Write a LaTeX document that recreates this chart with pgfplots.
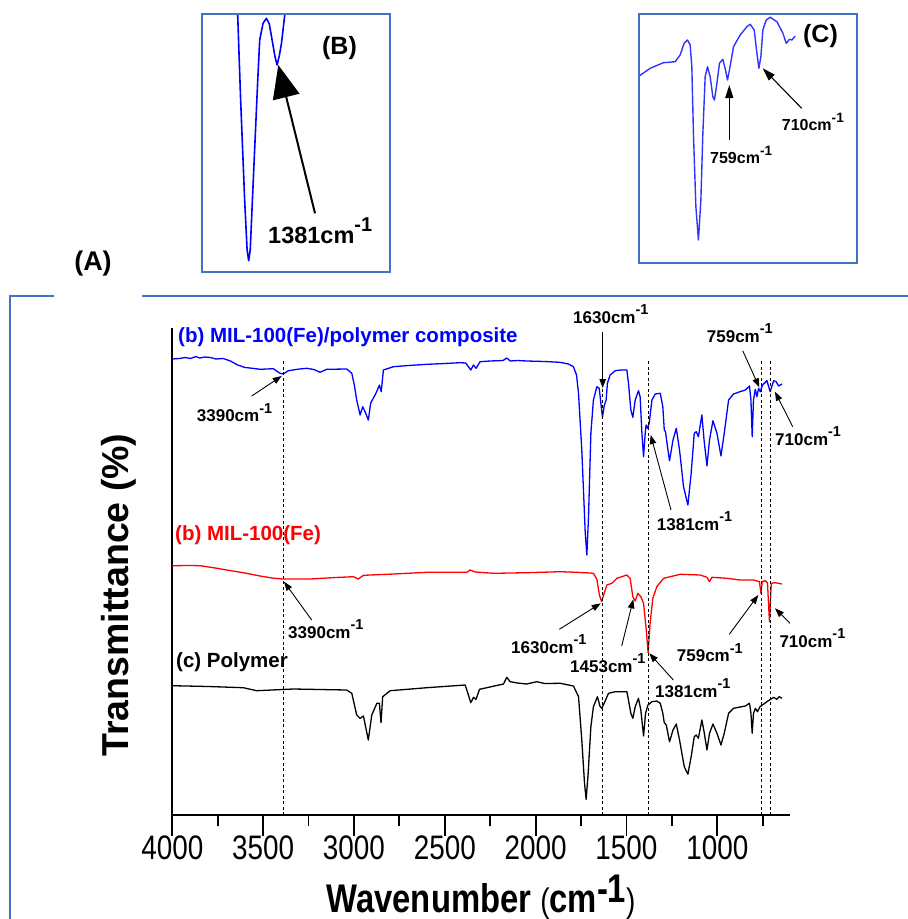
\documentclass[border=0pt]{standalone}
\usepackage{fontspec}
\setmainfont{Liberation Sans}
\newfontfamily\narrow[FakeStretch=0.82]{Liberation Sans}
\usepackage{graphicx}
\usepackage{pgfplots}
\pgfplotsset{compat=1.18}
\usetikzlibrary{arrows.meta}
\definecolor{frame}{RGB}{68,114,196}
\newcommand{\fs}[1]{\fontsize{#1}{#1}\selectfont}
\newcommand{\cmi}{cm\raisebox{0.5em}{\scalebox{0.85}{-1}}}
\tikzset{ann/.style={line width=0.9pt,-{Triangle[length=9pt,width=6.5pt]}},
  lab/.style={anchor=base west,inner sep=0pt,font=\bfseries\fs{17}}}
\begin{document}
\begin{tikzpicture}
\path[use as bounding box] (0pt,0pt) rectangle (908pt,-919pt);
% ---------- main axis
\begin{axis}[at={(172.3pt,-815pt)},anchor=south west,scale only axis,
  width=617.7pt,height=487pt,xmin=600,xmax=4000,x dir=reverse,ymin=0,ymax=487,
  axis x line*=bottom,axis y line*=left,ytick=\empty,
  axis line style={line width=1.8pt},
  xtick={1000,1500,2000,2500,3000,3500,4000},
  xticklabels={1000,1500,2000,2500,3000,3500,4000},
  minor xtick={750,1250,1750,2250,2750,3250,3750},
  tick align=outside,major tick length=21pt,minor tick length=11pt,
  tick style={line width=1.8pt,black},
  /pgf/number format/assume math mode=true,
  xticklabel style={font=\narrow\fs{34},inner sep=0pt},
  clip=false]
\addplot[blue,line width=1.3pt,line join=round] coordinates {
(4000,456) (3960,456.5) (3930,457.5) (3900,456.5) (3870,458.5) (3850,457) (3820,458) (3790,457.5) (3760,456) (3720,456.5) (3680,454) (3640,450) (3600,447.5) (3572,447) (3516,445.7) (3444,446.3) (3407,441.7) (3389,441) (3361,444.3) (3300,446) (3260,446.7) (3220,445.5) (3187,442.7) (3150,445.7) (3040,446) (3012,441.7) (2998,430) (2985,415) (2966,400) (2952,408.3) (2939,403.3) (2921,395) (2908,412) (2884,420) (2871,425) (2860,430) (2850,423.3) (2838,445) (2783,448.3) (2700,449.5) (2599,450.7) (2500,451.5) (2416,452.3) (2385,452) (2370,448.3) (2357,445) (2342,450) (2328,446.7) (2306,453.3) (2250,454) (2180,454.5) (2159,457) (2140,454) (2100,454.5) (2049,454) (1950,453.5) (1865,452.7) (1820,451) (1792,448.3) (1775,440) (1764,421.7) (1746,365) (1727,282) (1718,260) (1709,298.3) (1696,381.7) (1682,415) (1663,428.3) (1650,426.7) (1641,411.7) (1632,397.7) (1623,409) (1612,415) (1605,431.7) (1590,440) (1562,444.3) (1530,445) (1498,445) (1489,431.7) (1476,405) (1465,397.7) (1452,415) (1434,424.3) (1425,418.3) (1415,381.7) (1406,358.3) (1397,381.7) (1392,390) (1384,386.7) (1375,391.7) (1360,415) (1342,421) (1314,421.7) (1300,408.3) (1292,385) (1285,383.3) (1277,371.7) (1263,354.3) (1244,375) (1226,386.7) (1208,365) (1186,328.3) (1162,310) (1144,341.7) (1127,381.7) (1116,383.3) (1104,378.3) (1085,400) (1073,375) (1057,349) (1043,375) (1024,394.3) (1002,381.7) (980,359) (962,381.7) (938,415) (911,421) (880,423) (846,425) (823,429) (815,415) (808,378.3) (801,415) (791,425.7) (782,418.3) (773,426.7) (764,423.3) (751,430) (727,434.3) (709,423.3) (690,434.3) (676,433.3) (663,429) (644,431)};
\addplot[red,line width=1.3pt,line join=round] coordinates {
(4000,249.3) (3900,249.5) (3847,249.3) (3780,247.5) (3700,245) (3600,242) (3517,239) (3450,237) (3392,236) (3242,236) (3100,237.5) (3003,238.3) (2976,236) (2948,239.7) (2783,241) (2599,242.7) (2379,242.7) (2361,245) (2333,243) (2232,241.7) (2049,242.3) (1865,243.3) (1773,242.7) (1700,242) (1682,241.7) (1663,235.7) (1649,220) (1637,213.3) (1626,220) (1608,230) (1580,231.7) (1553,236.7) (1498,240) (1480,236.7) (1465,218.3) (1452,214) (1438,221.7) (1421,218.3) (1406,211.7) (1392,186.7) (1381,162.3) (1370,191.7) (1355,216.7) (1333,228.3) (1296,236.7) (1204,240.7) (1094,240) (1057,237.7) (1043,233.3) (1030,237.7) (947,236.7) (874,235) (801,235) (768,233.3) (760,221.7) (753,233.3) (737,234.3) (724,232.3) (713,193.3) (703,231.7) (682,232.3) (644,231)};
\addplot[black,line width=1.3pt,line join=round] coordinates {
(4000,129.3) (3800,128.5) (3609,127.3) (3535,124.3) (3334,126) (3040,125) (3012,121.7) (2985,100) (2966,96.7) (2948,99) (2921,75) (2902,100) (2874,111.7) (2860,111.7) (2851,92.3) (2842,118.3) (2801,124.3) (2599,127.3) (2388,130) (2370,120) (2357,112.3) (2342,117.7) (2328,115.7) (2309,125.7) (2177,131) (2159,137.7) (2140,133.3) (2100,132) (2049,131) (1994,133.3) (1950,131.5) (1865,131.7) (1792,129) (1764,118.3) (1746,75) (1731,31.7) (1722,15.7) (1711,41.7) (1696,88.3) (1682,108.3) (1660,118.3) (1645,108.3) (1636,106.7) (1623,111.7) (1599,121.7) (1562,123.3) (1498,123.3) (1489,115) (1476,101.7) (1465,96.7) (1452,108.3) (1434,116.7) (1421,105) (1406,79) (1395,101.7) (1382,110) (1360,113.3) (1333,114) (1314,111.7) (1300,101.7) (1292,92.3) (1281,90) (1263,73.3) (1244,85) (1226,91) (1208,75) (1182,48.3) (1162,40.7) (1144,58.3) (1127,78.3) (1116,80) (1104,76.7) (1085,95) (1073,83.3) (1057,65) (1043,81.7) (1024,91) (1002,81.7) (980,70) (962,81.7) (938,101.7) (911,106.7) (846,109) (823,111.7) (815,101.7) (808,81.7) (801,101.7) (790,106.7) (779,103.3) (765,108.3) (727,113.3) (690,117.7) (673,115.7) (659,118.3) (644,116.7)};
\foreach \w in {3390,1630,1381,759,710}{
  \edef\temp{\noexpand\draw[black,line width=0.8pt,dash pattern=on 3pt off 2.5pt] (axis cs:\w,0) -- (axis cs:\w,455);}
  \temp}
\end{axis}
% ---------- axis titles
\node[anchor=base,inner sep=0pt,font=\narrow\bfseries\fs{40}] at (481pt,-912pt)
  {Wavenumber {\mdseries\fs{34}(}cm\raisebox{10pt}{-1}{\mdseries\fs{34})}};
\node[rotate=90,inner sep=0pt,font=\bfseries\fs{37.5}] at (119pt,-595pt) {Transmittance (\%)};
% ---------- series labels
\node[anchor=base west,inner sep=0pt,font=\bfseries\fs{20.5},text=blue] at (178pt,-342pt) {(b) MIL-100(Fe)/polymer composite};
\node[anchor=base west,inner sep=0pt,font=\bfseries\fs{20.5},text=red] at (175pt,-540pt) {(b) MIL-100(Fe)};
\node[anchor=base west,inner sep=0pt,font=\bfseries\fs{20.5},text=black] at (176pt,-667pt) {(c) Polymer};
% ---------- annotations (composite)
\node[lab] at (196.7pt,-421.5pt) {3390\cmi};
\draw[ann] (251.7pt,-396pt) -- (281.7pt,-376pt);
\node[lab] at (573pt,-323pt) {1630\cmi};
\draw[ann] (602.7pt,-331.7pt) -- (602.7pt,-388pt);
\node[lab] at (656.7pt,-530pt) {1381\cmi};
\draw[ann] (671pt,-510pt) -- (650.7pt,-435pt);
\node[lab] at (706.7pt,-342pt) {759\cmi};
\draw[ann] (742.7pt,-350.7pt) -- (759.3pt,-387.3pt);
\node[lab] at (775pt,-445pt) {710\cmi};
\draw[ann] (792.7pt,-426.7pt) -- (775pt,-391.7pt);
% ---------- annotations (MIL-100)
\node[lab] at (288pt,-638pt) {3390\cmi};
\draw[ann] (311.7pt,-620pt) -- (284pt,-581.7pt);
\node[lab] at (511pt,-653pt) {1630\cmi};
\draw[ann] (559.3pt,-629.3pt) -- (600.7pt,-603.3pt);
\node[lab] at (570pt,-672pt) {1453\cmi};
\draw[ann] (621.7pt,-646pt) -- (633.3pt,-599.3pt);
\node[lab] at (655pt,-697pt) {1381\cmi};
\draw[ann] (673.3pt,-680pt) -- (649.3pt,-653.3pt);
\node[lab] at (676.7pt,-661.7pt) {759\cmi};
\draw[ann] (729.3pt,-634.3pt) -- (758.3pt,-595pt);
\node[lab] at (779.3pt,-647pt) {710\cmi};
\draw[ann] (790pt,-623.3pt) -- (775pt,-608.3pt);
% ---------- frame (A)
\draw[frame,line width=2.2pt] (54pt,-296pt) -- (10pt,-296pt) -- (10pt,-925pt);
\draw[frame,line width=2.2pt] (142pt,-296pt) -- (915pt,-296pt);
\node[inner sep=0pt,font=\bfseries\fs{27}] at (93pt,-264pt) {(A)};
% ---------- inset (B)
\begin{axis}[at={(202pt,-272pt)},anchor=south west,scale only axis,
  width=188pt,height=258pt,xmin=1297,xmax=1442,x dir=reverse,ymin=0,ymax=258,
  hide axis,clip=true]
\addplot[blue,line width=1.6pt,line join=round] coordinates {
(1415.7,282) (1414.5,258) (1412.2,172) (1409.1,72) (1407.2,22) (1406,11.3) (1404.8,22) (1402.1,102) (1399,192) (1397.5,232) (1394.9,248.7) (1392.3,253.7) (1390.1,248) (1388.2,234) (1385.8,216) (1384.1,207) (1382.4,216) (1380.7,228.7) (1378.1,258) (1376.5,282)};
\end{axis}
\draw[frame,line width=1.5pt] (202pt,-14pt) rectangle (390pt,-272pt);
\node[inner sep=0pt,font=\bfseries\fs{25}] at (339.5pt,-48.5pt) {(B)};
\node[anchor=base west,inner sep=0pt,font=\bfseries\fs{23.5}] at (268pt,-243pt) {1381\cmi};
\draw[line width=2pt,-{Triangle[length=33pt,width=27pt]}] (315pt,-213.3pt) -- (278.3pt,-65pt);
% ---------- inset (C)
\begin{axis}[at={(639pt,-263pt)},anchor=south west,scale only axis,
  width=218pt,height=249pt,xmin=557,xmax=897,x dir=reverse,ymin=0,ymax=249,
  hide axis,clip=true]
\addplot[blue!80!white,line width=1.4pt,line join=round] coordinates {
(896.8,187) (879.6,194.7) (858.9,200.3) (840.6,201.3) (832.8,208) (826.6,219.7) (821.4,223) (817.2,218) (814.6,196.3) (812.1,129.7) (808.3,56.3) (804.3,23) (800.5,63) (797.4,129.7) (793.8,186.3) (790.2,196.3) (786,186.3) (781.8,166.3) (779.3,163) (775.5,179.7) (771.5,199.7) (766.2,203.7) (762.1,193) (759,183) (755.9,193) (749.6,216.3) (739.2,228) (728.7,236.3) (723.6,238.7) (717.3,233) (713.1,209.7) (710,194.7) (706.9,206.3) (703.8,233) (698.6,243) (692.4,245.7) (681.9,241.3) (672.5,229.7) (667.4,219.7) (662.2,223.7) (658.5,223) (653.4,227)};
\end{axis}
\draw[frame,line width=1.5pt] (639pt,-14pt) rectangle (857pt,-263pt);
\node[inner sep=0pt,font=\bfseries\fs{25}] at (820.5pt,-36pt) {(C)};
\node[anchor=base west,inner sep=0pt,font=\bfseries\fs{16}] at (710pt,-163.3pt) {759\cmi};
\draw[line width=1.1pt,-{Triangle[length=13pt,width=8pt]}] (729.3pt,-140pt) -- (729.3pt,-85pt);
\node[anchor=base west,inner sep=0pt,font=\bfseries\fs{16}] at (781.7pt,-130pt) {710\cmi};
\draw[line width=1.1pt,-{Triangle[length=13pt,width=8pt]}] (801.7pt,-108.3pt) -- (762.7pt,-68.3pt);
\end{tikzpicture}
\end{document}
